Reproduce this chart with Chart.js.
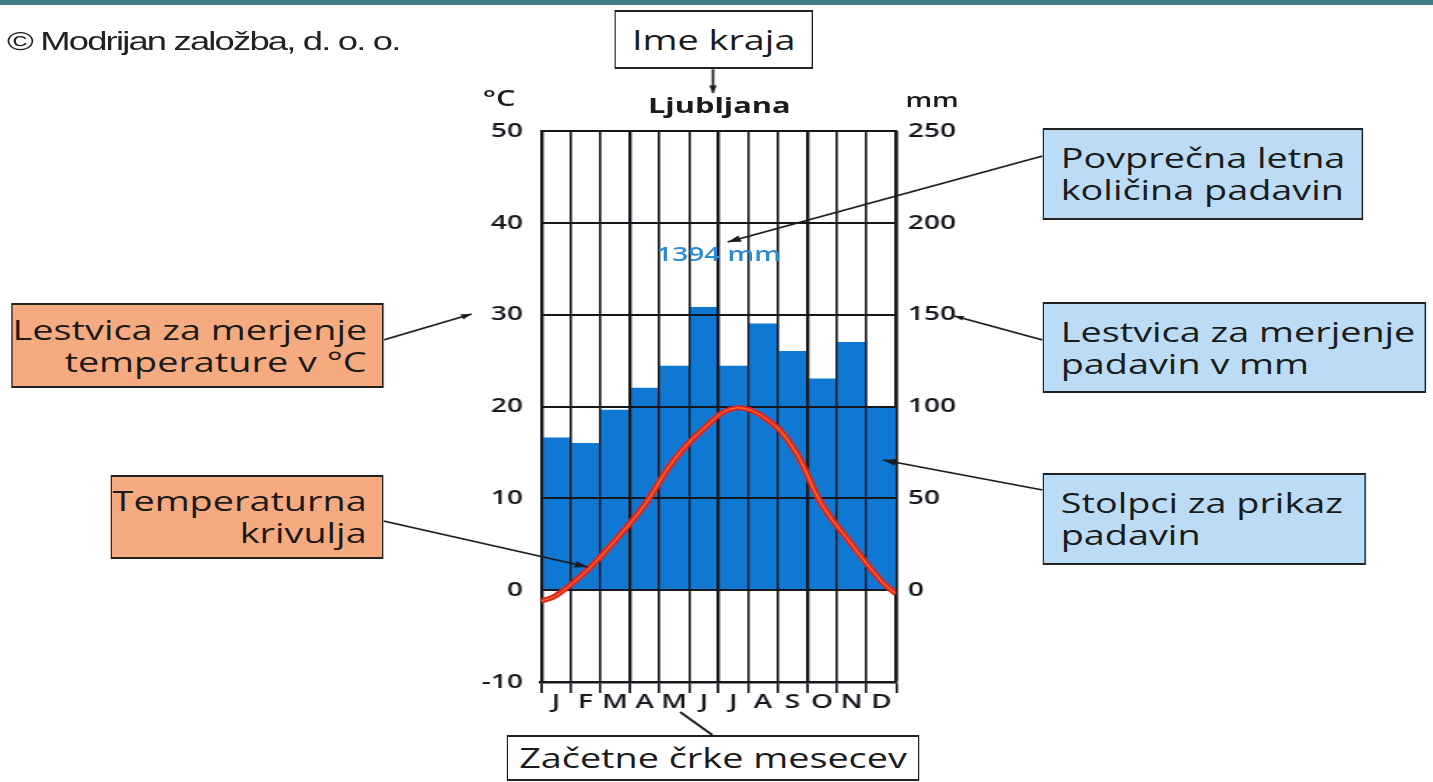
<!DOCTYPE html>
<html>
<head>
<meta charset="utf-8">
<script src="https://cdn.jsdelivr.net/npm/chart.js@4/dist/chart.umd.min.js"></script>
<style>
  html, body { margin: 0; padding: 0; background: #fff; overflow: hidden; }
  body { width: 1433px; height: 782px; position: relative; }
  /* the reference is a 1024 wide figure stretched to 1433, so draw at 1024 and stretch */
  #wrap { position: absolute; left: 0; top: 0; width: 1024px; height: 782px;
          transform: scaleX(1.399414); transform-origin: 0 0; font-family: 'Open Sans', sans-serif; color: #1b1b1b; }
  #c { position: absolute; left: 0; top: 0; width: 1024px; height: 782px; }
  .topbar { position: absolute; left: 0; top: 0; width: 1024px; height: 5px; background: #3f7c86; }
  .copy { position: absolute; left: 5px; top: 26px; font: 26px 'Liberation Sans', Arial, sans-serif; letter-spacing: -1.3px; color: #222; white-space: nowrap; }
  .box { position: absolute; box-sizing: border-box; border: solid #222; border-width: 2px 1.5px;
         display: flex; flex-direction: column; justify-content: center; font-size: 27px; line-height: 32px; white-space: nowrap; }
  .white { background: #fff; align-items: center; }
  .blue { background: #bcdbf4; padding-left: 12px; }
  .orange { background: #f6aa80; text-align: right; padding-right: 11px; }
  .lbl { position: absolute; white-space: nowrap; }
</style>
</head>
<body>
<div id="wrap">
  <canvas id="c" width="1024" height="782"></canvas>
  <div class="topbar"></div>
  <div class="copy">© Modrijan založba, d. o. o.</div>

  <div class="box white" style="left:439px;top:10px;width:142px;height:59px;">Ime kraja</div>
  <div class="lbl" style="left:463px;top:89px;font-size:22px;font-weight:700;">Ljubljana</div>
  <div class="lbl" style="left:345px;top:82px;font-size:22px;font-weight:600;">°C</div>
  <div class="lbl" style="left:647px;top:86px;font-size:20px;font-weight:600;">mm</div>
  <div class="lbl" id="total" style="left:469px;top:240px;font-size:20px;font-weight:600;color:#2a8bd0;"></div>

  <div class="box blue" style="left:745px;top:128px;width:229px;height:92px;"><div>Povprečna letna</div><div>količina padavin</div></div>
  <div class="box blue" style="left:745px;top:302px;width:274px;height:91px;"><div>Lestvica za merjenje</div><div>padavin v mm</div></div>
  <div class="box blue" style="left:745px;top:473px;width:231px;height:92px;"><div>Stolpci za prikaz</div><div>padavin</div></div>

  <div class="box orange" style="left:8px;top:303px;width:266px;height:85px;"><div>Lestvica za merjenje</div><div>temperature v °C</div></div>
  <div class="box orange" style="left:79px;top:475px;width:195px;height:84px;"><div>Temperaturna</div><div>krivulja</div></div>

  <div class="box white" style="left:362px;top:735px;width:295px;height:46px;">Začetne črke mesecev</div>
</div>

<script>
var months = ['J', 'F', 'M', 'A', 'M', 'J', 'J', 'A', 'S', 'O', 'N', 'D'];
var precipMm = [83, 80, 98, 110, 122, 154, 122, 145, 130, 115, 135, 100];
var tempC = [-0.6, 2.0, 5.4, 9.3, 14.2, 17.6, 19.8, 18.9, 15.6, 9.3, 5.0, 1.0];
// curve value read at the start (1 Jan) and end (31 Dec) of the plot
var tempYearStart = -1.2;
var tempYearEnd = -0.4;
var tempTicks = [-10, 0, 10, 20, 30, 40, 50];
var precipTicks = [0, 50, 100, 150, 200, 250];

document.getElementById('total').textContent =
  precipMm.reduce(function(a, b){ return a + b; }, 0) + ' mm';

// line points: month centres on a 0..12 axis, plus the two year edges
var tempPoints = [{x: 0, y: tempYearStart}];
tempC.forEach(function(t, i){ tempPoints.push({x: i + 0.5, y: t}); });
tempPoints.push({x: 12, y: tempYearEnd});

var ink = '#15171c';
var labelFont = {family: "'Open Sans', sans-serif", size: 20, weight: '600'};

// grid goes over the bars but under the temperature curve
var gridOverBars = {
  id: 'gridOverBars',
  afterDatasetDraw: function(chart, args){
    if (args.meta.type !== 'bar') return;
    chart.scales.x.drawGrid(chart.chartArea);
    chart.scales.y.drawGrid(chart.chartArea);
  }
};

function arrow(ctx, x1, y1, x2, y2, head){
  ctx.beginPath();
  ctx.moveTo(x1, y1);
  ctx.lineTo(x2, y2);
  ctx.stroke();
  if (!head) return;
  var a = Math.atan2(y2 - y1, x2 - x1);
  ctx.beginPath();
  ctx.moveTo(x2, y2);
  ctx.lineTo(x2 - head * Math.cos(a - 0.35), y2 - head * Math.sin(a - 0.35));
  ctx.lineTo(x2 - head * Math.cos(a + 0.35), y2 - head * Math.sin(a + 0.35));
  ctx.closePath();
  ctx.fill();
}

var callouts = {
  id: 'callouts',
  afterDraw: function(chart){
    var ctx = chart.ctx;
    ctx.save();
    ctx.strokeStyle = '#1b1b1b';
    ctx.fillStyle = '#1b1b1b';
    ctx.lineWidth = 1.8;
    arrow(ctx, 509.5, 69, 509.5, 93, 8);
    arrow(ctx, 745, 156, 520, 242, 10);
    arrow(ctx, 745, 340, 682, 316, 7);
    arrow(ctx, 745, 490, 631, 460, 10);
    arrow(ctx, 274, 340, 337, 314, 8);
    arrow(ctx, 274, 521, 420, 567, 10);
    arrow(ctx, 509, 735, 486, 712, 0);
    ctx.restore();
  }
};

var ctx = document.getElementById('c').getContext('2d');
new Chart(ctx, {
  data: {
    labels: months,
    datasets: [{
      type: 'bar',
      label: 'Padavine (mm)',
      data: precipMm,
      xAxisID: 'x',
      yAxisID: 'y2',
      backgroundColor: '#0f78d2',
      borderWidth: 0,
      grouped: false,
      barPercentage: 1,
      categoryPercentage: 1,
      order: 3
    }, {
      type: 'line',
      label: 'Temperatura (°C)',
      data: tempPoints,
      xAxisID: 'xt',
      yAxisID: 'y',
      borderColor: '#e5231d',
      borderWidth: 5,
      pointRadius: 0,
      tension: 0.4,
      order: 2
    }, {
      type: 'line',
      label: '',
      data: tempPoints,
      xAxisID: 'xt',
      yAxisID: 'y',
      borderColor: 'rgba(240,170,60,0.8)',
      borderWidth: 1,
      pointRadius: 0,
      tension: 0.4,
      order: 1
    }]
  },
  options: {
    responsive: false,
    devicePixelRatio: 1,
    animation: false,
    layout: {padding: {left: 0, right: 0, top: 131, bottom: 0}},
    plugins: {legend: {display: false}, tooltip: {enabled: false}},
    scales: {
      x: {
        type: 'category',
        offset: true,
        grid: {
          offset: true,
          color: ink,
          lineWidth: function(c){ return c.index % 3 === 0 ? 2.2 : 1.4; },
          drawTicks: true,
          tickLength: 11,
          tickWidth: 1.4,
          tickColor: ink
        },
        border: {display: true, color: ink, width: 2.5},
        ticks: {color: ink, font: labelFont, padding: -3, maxRotation: 0, autoSkip: false},
        afterFit: function(s){ s.height = 100; }
      },
      xt: {type: 'linear', min: 0, max: 12, display: false},
      y: {
        position: 'left',
        min: -10, max: 50,
        afterBuildTicks: function(s){ s.ticks = tempTicks.map(function(v){ return {value: v}; }); },
        grid: {color: ink, lineWidth: 2, drawTicks: false},
        border: {display: true, color: ink, width: 2.2},
        ticks: {color: ink, font: labelFont, padding: 13},
        afterFit: function(s){ s.width = 386.6; }
      },
      y2: {
        position: 'right',
        min: -50, max: 250,
        afterBuildTicks: function(s){ s.ticks = precipTicks.map(function(v){ return {value: v}; }); },
        grid: {display: false, drawTicks: false},
        border: {display: true, color: ink, width: 2.2},
        ticks: {color: ink, font: labelFont, padding: 8.5},
        afterFit: function(s){ s.width = 1024 - 640.3; }
      }
    }
  },
  plugins: [gridOverBars, callouts]
});
</script>
</body>
</html>
